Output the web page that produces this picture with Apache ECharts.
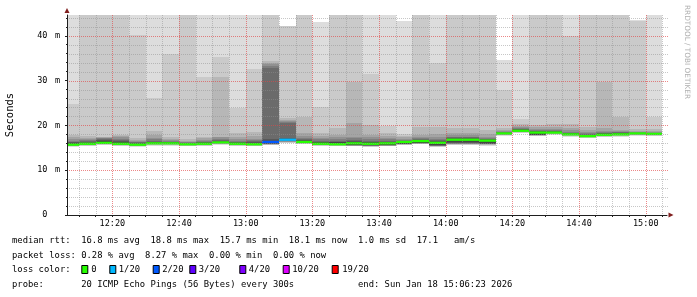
<!DOCTYPE html>
<html><head><meta charset="utf-8">
<script src="https://cdn.jsdelivr.net/npm/echarts@6/dist/echarts.min.js"></script>
<style>html,body{margin:0;padding:0;background:#fff}#c{width:697px;height:297px}</style>
</head><body><div id="c"></div>
<script>
// ---- data ----
const startTime = '12:06:23';
const endTime = '15:06:23';
const slotEnds = ['12:10','12:15','12:20','12:25','12:30','12:35','12:40','12:45','12:50','12:55',
  '13:00','13:05','13:10','13:15','13:20','13:25','13:30','13:35','13:40','13:45',
  '13:50','13:55','14:00','14:05','14:10','14:15','14:20','14:25','14:30','14:35',
  '14:40','14:45','14:50','14:55','15:00','15:05'];
const medians = [15.7,15.9,16.1,15.9,15.7,16.0,16.0,15.8,15.9,16.2,
  15.9,15.8,16.3,16.8,16.3,15.9,15.8,16.0,15.9,16.0,
  16.3,16.5,16.1,16.8,16.8,16.6,18.2,18.8,18.4,18.4,
  18.0,17.6,17.9,18.0,18.2,18.1];
const lossCounts = [0,0,0,0,0,0,0,0,0,0, 0,0,2,1,0,0,0,0,0,0, 0,0,0,0,0,0,0,0,0,0, 0,0,0,0,0,0];
// 20 sorted ping rtts (ms) per 5-minute slot; null = lost ping
const pings = [
  [15.2,15.3,15.4,15.45,15.5,15.55,15.6,15.65,15.68,15.7, 15.8,16.0,16.2,16.4,16.6,16.9,17.3,17.9,24.8,58],
  [15.4,15.5,15.6,15.65,15.7,15.75,15.8,15.85,15.88,15.9, 16.0,16.1,16.3,16.5,16.7,16.9,17.2,17.7,52,70],
  [15.6,15.7,15.8,15.85,15.9,15.95,16.0,16.05,16.08,16.1, 16.3,16.5,16.8,17.0,17.1,17.2,17.3,17.4,55,75],
  [15.4,15.5,15.6,15.65,15.7,15.75,15.8,15.85,15.88,15.9, 16.1,16.3,16.6,16.8,17.0,17.3,17.6,17.9,60,80],
  [15.2,15.3,15.4,15.45,15.5,15.55,15.6,15.65,15.68,15.7, 15.8,15.9,16.1,16.2,16.4,16.6,16.8,17.1,40.2,62],
  [15.5,15.6,15.7,15.75,15.8,15.85,15.9,15.95,15.98,16.0, 16.1,16.2,16.4,16.6,16.9,17.2,17.9,18.8,26.2,55],
  [15.5,15.6,15.7,15.75,15.8,15.85,15.9,15.95,15.98,16.0, 16.1,16.2,16.3,16.4,16.6,16.8,17.0,17.4,35.9,58],
  [15.3,15.4,15.5,15.55,15.6,15.65,15.7,15.75,15.78,15.8, 15.9,15.9,16.0,16.1,16.2,16.4,16.6,16.9,56,72],
  [15.4,15.5,15.6,15.65,15.7,15.75,15.8,15.85,15.88,15.9, 16.0,16.1,16.3,16.4,16.6,16.8,17.1,17.5,30.9,58],
  [15.7,15.8,15.9,15.95,16.0,16.05,16.1,16.15,16.18,16.2, 16.3,16.4,16.6,16.8,17.0,17.3,17.5,30.7,35.2,60],
  [15.4,15.5,15.6,15.65,15.7,15.75,15.8,15.85,15.88,15.9, 16.0,16.1,16.2,16.4,16.6,16.9,17.3,18.2,23.8,60],
  [15.3,15.4,15.5,15.55,15.6,15.65,15.7,15.75,15.78,15.8, 15.9,16.1,16.3,16.5,16.7,17.0,17.6,18.6,32.6,60],
  [null,15.6,15.7,15.75,15.8,15.85,15.9,15.95,16.0,16.3, 16.4,16.6,16.9,32.9,33.2,33.6,34.0,34.4,55,null],
  [15.9,16.1,16.2,16.3,16.4,16.5,16.6,16.65,16.7,16.8, 16.9,17.0,17.2,20.5,20.7,21.0,21.3,21.6,42.2,null],
  [15.8,15.9,16.0,16.05,16.1,16.15,16.2,16.25,16.28,16.3, 16.4,16.5,16.7,16.9,17.2,17.6,18.2,21.9,58,75],
  [15.4,15.5,15.6,15.65,15.7,15.75,15.8,15.85,15.88,15.9, 16.0,16.2,16.4,16.6,16.9,17.2,17.6,18.2,24.0,43.0],
  [15.3,15.4,15.5,15.55,15.6,15.65,15.7,15.75,15.78,15.8, 16.0,16.2,16.4,16.6,16.9,17.3,17.9,19.4,56,70],
  [15.3,15.35,15.4,15.45,15.5,15.55,15.6,15.62,15.65,16.0, 16.2,16.4,16.6,16.8,17.1,17.5,20.5,29.6,58,75],
  [15.2,15.25,15.3,15.35,15.4,15.45,15.5,15.52,15.55,15.9, 16.0,16.2,16.4,16.6,16.9,17.3,17.9,20.1,31.5,60],
  [15.3,15.35,15.4,15.45,15.5,15.55,15.6,15.62,15.65,16.0, 16.1,16.2,16.4,16.6,16.9,17.2,17.6,18.2,19.8,60],
  [15.6,15.65,15.7,15.75,15.8,15.85,15.9,15.92,15.95,16.3, 16.4,16.4,16.5,16.6,16.8,17.0,17.3,17.6,18.0,43.4],
  [15.8,15.85,15.9,15.95,16.0,16.05,16.1,16.12,16.15,16.5, 16.6,16.7,16.8,17.0,17.2,17.4,17.9,19.7,58,75],
  [15.2,15.25,15.3,15.35,15.4,15.45,15.5,15.52,15.55,16.1, 16.2,16.3,16.5,16.7,17.0,17.4,18.0,19.7,33.9,60],
  [15.6,15.7,15.8,15.85,15.9,15.95,16.0,16.1,16.2,16.8, 16.9,17.0,17.1,17.3,17.5,17.8,18.4,19.5,58,75],
  [15.6,15.7,15.8,15.85,15.9,15.95,16.0,16.1,16.2,16.8, 16.9,17.0,17.1,17.3,17.5,17.8,18.3,19.4,56,72],
  [15.5,15.6,15.7,15.75,15.8,15.85,15.9,15.95,16.0,16.6, 16.7,16.8,16.9,17.0,17.2,17.5,18.0,19.0,58,75],
  [17.7,17.8,17.9,17.95,18.0,18.05,18.1,18.15,18.18,18.2, 18.3,18.3,18.4,18.5,18.6,18.7,18.9,19.4,27.8,34.6],
  [18.3,18.4,18.5,18.55,18.6,18.65,18.7,18.75,18.78,18.8, 18.9,19.0,19.1,19.2,19.4,19.6,19.9,20.3,21.5,60],
  [17.6,17.65,17.7,17.75,17.8,17.85,17.9,17.92,17.95,18.4, 18.5,18.6,18.7,18.8,19.0,19.3,19.7,20.1,55,70],
  [17.9,18.0,18.1,18.15,18.2,18.25,18.3,18.35,18.38,18.4, 18.5,18.6,18.7,18.8,19.0,19.2,19.6,20.4,58,75],
  [17.5,17.6,17.7,17.75,17.8,17.85,17.9,17.95,17.98,18.0, 18.1,18.2,18.3,18.4,18.6,18.9,19.4,20.2,40.0,60],
  [17.1,17.2,17.3,17.35,17.4,17.45,17.5,17.55,17.58,17.6, 17.7,17.8,17.9,18.1,18.3,18.6,19.0,19.6,56,72],
  [17.4,17.5,17.6,17.65,17.7,17.75,17.8,17.85,17.88,17.9, 18.0,18.1,18.2,18.3,18.5,18.8,19.5,29.6,58,75],
  [17.5,17.6,17.7,17.75,17.8,17.85,17.9,17.95,17.98,18.0, 18.1,18.2,18.4,18.5,18.6,18.7,19.0,21.8,57,72],
  [17.7,17.8,17.9,17.95,18.0,18.05,18.1,18.15,18.18,18.2, 18.2,18.3,18.3,18.4,18.5,18.6,18.8,19.1,43.3,43.5],
  [17.6,17.7,17.8,17.85,17.9,17.95,18.0,18.05,18.08,18.1, 18.2,18.2,18.3,18.3,18.4,18.5,18.7,19.2,21.9,60]
];
const xTickLabels = ['12:20','12:40','13:00','13:20','13:40','14:00','14:20','14:40','15:00'];
const yTickValues = [0,10,20,30,40];
const yMax = 44.64;
const lossLegendLabels = ['0','1/20','2/20','3/20','4/20','10/20','19/20'];
const lossLegendThresholds = [0,1,2,3,4,10,19];
const lossLegendColors = ['#26ff00','#00b8ff','#0059ff','#5e00ff','#7e00ff','#dd00ff','#ff0000'];
const statsLines = [
  'median rtt:  16.8 ms avg  18.8 ms max  15.7 ms min  18.1 ms now  1.0 ms sd  17.1   am/s',
  'packet loss: 0.28 % avg  8.27 % max  0.00 % min  0.00 % now'
];
const lossColorTitle = 'loss color:';
const probeText = 'probe:       20 ICMP Echo Pings (56 Bytes) every 300s';
const endText = 'end: Sun Jan 18 15:06:23 2026';
const watermark = 'RRDTOOL / TOBI OETIKER';

// ---- layout / style ----
const legendBoxX = [81.3,109.3,152.7,189.3,239.3,282.7,331.7];
const legendTextX = [91.2,118.8,162.2,198.8,248.8,292.2,342.2];
const lineY = [241, 255.5, 270, 284.3];
const MONO = 'DejaVu Sans Mono';
const LEG_FONT = '8.86px "' + MONO + '"';
const GRID_MINOR = 'rgba(143,143,143,0.5)';
const GRID_MAJOR = 'rgba(225,70,70,0.65)';

const toSec = s => { const a = s.split(':').map(Number); return a[0]*3600 + a[1]*60 + (a[2]||0); };
const T0 = toSec(startTime), T1 = toSec(endTime);
const fmt = v => { const h = Math.floor(v/3600), m = Math.floor((v%3600)/60); return (h<10?'0':'')+h+':'+(m<10?'0':'')+m; };
const majorX = xTickLabels.map(toSec);
const allX = []; for (let t = toSec(slotEnds[0]); t <= T1; t += 300) allX.push(t);
const minorX = allX.filter(t => majorX.indexOf(t) < 0);
const minorY = []; for (let v = 2; v < yMax; v += 2) if (v % 10 !== 0) minorY.push(v);
const majorY = yTickValues.filter(v => v > 0);

function lossColor(n) {
  for (let i = 0; i < lossLegendThresholds.length; i++) if (n <= lossLegendThresholds[i]) return lossLegendColors[i];
  return lossLegendColors[lossLegendColors.length-1];
}

const seriesData = slotEnds.map((s, k) => [toSec(s)].concat(pings[k].map(v => v == null ? '-' : v)).concat([medians[k], lossCounts[k]]));

// grid line items: [x, y, orientation(0=horizontal,1=vertical), major]
const gridMinor = [].concat(minorY.map(v => [T0, v, 0])).concat(minorX.map(v => [v, 0, 1]));
const gridMajor = [].concat(majorY.map(v => [T0, v, 0])).concat(majorX.map(v => [v, 0, 1]));

function renderSmoke(params, api) {
  const cs = params.coordSys;
  const t = api.value(0);
  const xa = Math.round(api.coord([t - 300, 0])[0]);
  const xb = Math.round(api.coord([t, 0])[0]);
  const children = [];
  for (let i = 0; i < 10; i++) {
    const lo = api.value(1 + i), hi = api.value(20 - i);
    if (isNaN(lo) || isNaN(hi)) continue;
    const ya = Math.round(api.coord([t, hi])[1]);
    const yb = Math.round(api.coord([t, lo])[1]);
    const shape = echarts.graphic.clipRectByRect({x: xa, y: ya, width: xb - xa, height: yb - ya}, cs);
    if (!shape) continue;
    const g = Math.floor(190 / 10 * (10 - (i + 1))) + 50;
    children.push({type: 'rect', shape: shape, style: {fill: 'rgb(' + g + ',' + g + ',' + g + ')'}});
  }
  const med = api.value(21), loss = api.value(22);
  const sw = yMax / 200 * 1.15;
  const ym1 = api.coord([t, med + sw])[1], ym2 = api.coord([t, med - sw])[1];
  const ms = echarts.graphic.clipRectByRect({x: xa, y: ym1, width: xb - xa, height: ym2 - ym1}, cs);
  if (ms) children.push({type: 'rect', shape: ms, style: {fill: lossColor(loss)}});
  return {type: 'group', children: children};
}

function makeGridRenderer(color) {
  return function (params, api) {
    const cs = params.coordSys;
    const o = api.value(2);
    let shape;
    if (o === 0) {
      const y = Math.round(api.coord([T0, api.value(1)])[1]) + 0.5;
      shape = {x1: cs.x, y1: y, x2: cs.x + cs.width + 1, y2: y};
    } else {
      const x = Math.round(api.coord([api.value(0), 0])[0]) + 0.5;
      shape = {x1: x, y1: cs.y, x2: x, y2: cs.y + cs.height};
    }
    return {type: 'line', shape: shape, style: {stroke: color, lineWidth: 1, lineDash: [1, 1]}};
  };
}

const chart = echarts.init(document.getElementById('c'), null, {renderer: 'canvas'});

const graphic = [];
const txt = (x, y, s) => ({type: 'text', x: x, y: y, style: {text: s, font: LEG_FONT, fill: '#000', textVerticalAlign: 'middle', verticalAlign: 'middle'}});
statsLines.forEach((l, i) => graphic.push(txt(12, lineY[i], l)));
graphic.push(txt(12, lineY[2], lossColorTitle));
lossLegendLabels.forEach((lab, i) => {
  graphic.push({type: 'rect', shape: {x: legendBoxX[i] + 0.5, y: lineY[2] - 4.5, width: 6, height: 8}, style: {fill: lossLegendColors[i], stroke: '#000', lineWidth: 1}});
  graphic.push(txt(legendTextX[i], lineY[2], lab));
});
graphic.push(txt(12, lineY[3], probeText));
graphic.push(txt(358, lineY[3], endText));
graphic.push({type: 'text', x: 687, y: 5, rotation: -Math.PI / 2, style: {text: watermark, font: '7.3px "DejaVu Sans"', fill: '#b0b0b0', textAlign: 'left', align: 'left', textVerticalAlign: 'middle', verticalAlign: 'middle'}});

chart.setOption({
  animation: false,
  backgroundColor: '#fff',
  grid: {left: 67, right: 30, top: 15, bottom: 82, containLabel: false, outerBoundsMode: 'none'},
  xAxis: [
    {type: 'value', min: T0, max: T1, position: 'bottom', z: 4,
      axisLine: {show: true, onZero: false, lineStyle: {color: '#1f1f1f', width: 1}},
      axisTick: {show: true, length: 2, customValues: allX, lineStyle: {color: '#1f1f1f'}},
      axisLabel: {show: true, customValues: majorX, formatter: fmt, margin: 4, fontFamily: MONO, fontSize: 8.5, color: '#000'},
      splitLine: {show: false}},
    {type: 'value', min: T0, max: T1, position: 'bottom', z: 4,
      axisLine: {show: true, onZero: false, symbol: ['none', 'triangle'], symbolSize: [5, 5], symbolOffset: [0, 4], lineStyle: {color: '#801f1f', width: 0}},
      axisTick: {show: false}, axisLabel: {show: false}, splitLine: {show: false}}
  ],
  yAxis: [
    {type: 'value', min: 0, max: yMax, position: 'left', z: 4,
      name: 'Seconds', nameLocation: 'middle', nameGap: 51,
      nameTextStyle: {fontFamily: MONO, fontSize: 10.5, color: '#000'},
      axisLine: {show: true, onZero: false, lineStyle: {color: '#1f1f1f', width: 1}},
      axisTick: {show: true, length: 2, customValues: yTickValues, lineStyle: {color: '#1f1f1f'}},
      axisLabel: {show: true, customValues: yTickValues, margin: 7,
        formatter: v => v === 0 ? '{n|0}{u|\u00a0}' : '{n|' + v + '}{u|m}',
        rich: {n: {fontFamily: MONO, fontSize: 8.5, color: '#000'}, u: {fontFamily: MONO, fontSize: 8.5, color: '#000', width: 12.6, align: 'right'}}},
      splitLine: {show: false}},
    {type: 'value', min: 0, max: yMax, position: 'left', z: 4,
      axisLine: {show: true, onZero: false, symbol: ['none', 'triangle'], symbolSize: [5, 5], symbolOffset: [0, 4.5], lineStyle: {color: '#801f1f', width: 0}},
      axisTick: {show: true, length: 1, customValues: minorY, lineStyle: {color: '#1f1f1f'}},
      axisLabel: {show: false}, splitLine: {show: false}}
  ],
  series: [
    {type: 'custom', name: 'smoke', xAxisIndex: 0, yAxisIndex: 0, z: 2,
      renderItem: renderSmoke, encode: {x: 0, y: 21}, data: seriesData},
    {type: 'custom', name: 'gridMinor', xAxisIndex: 0, yAxisIndex: 0, z: 3, silent: true,
      renderItem: makeGridRenderer(GRID_MINOR), encode: {x: 0, y: 1}, data: gridMinor},
    {type: 'custom', name: 'gridMajor', xAxisIndex: 0, yAxisIndex: 0, z: 3, silent: true,
      renderItem: makeGridRenderer(GRID_MAJOR), encode: {x: 0, y: 1}, data: gridMajor}
  ],
  graphic: graphic
});
</script></body></html>
